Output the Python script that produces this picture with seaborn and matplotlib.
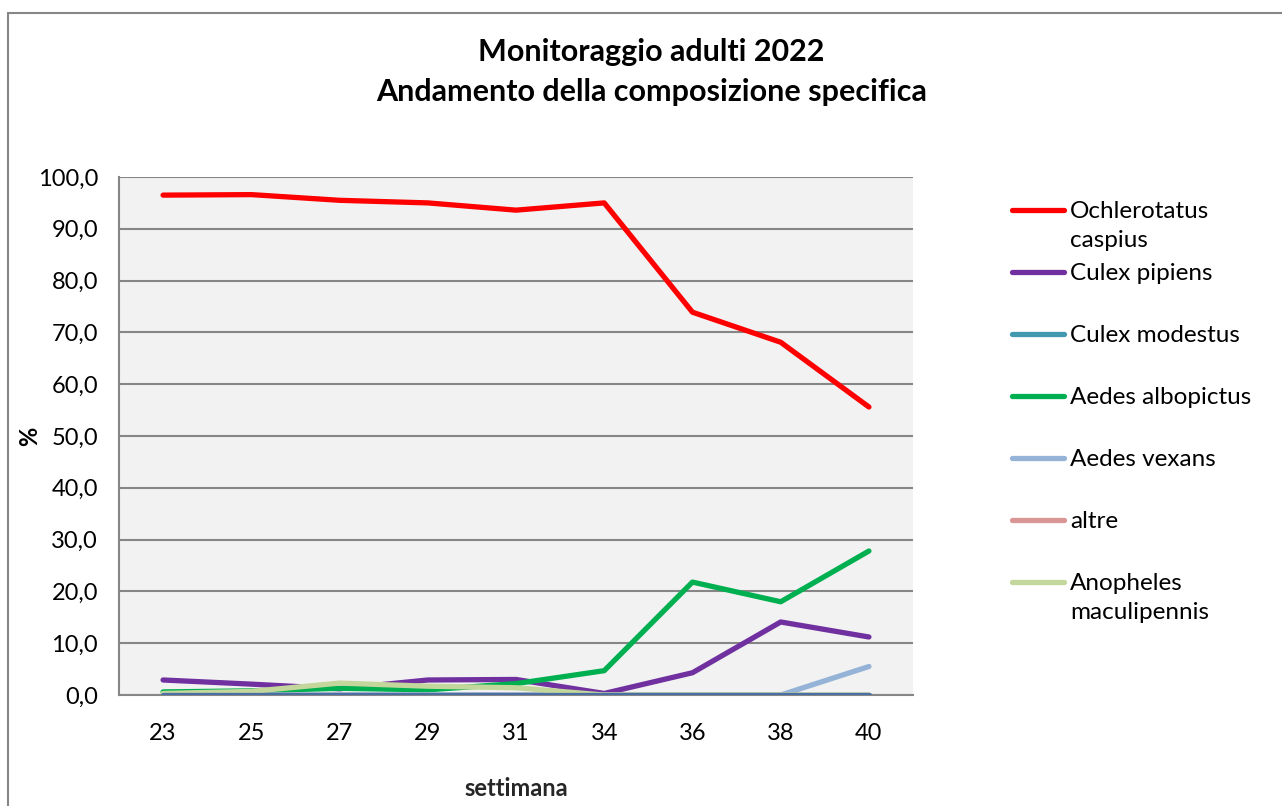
import pandas as pd
import seaborn as sns
import matplotlib.pyplot as plt
from matplotlib.lines import Line2D
from matplotlib.ticker import FuncFormatter, FixedLocator

# dati (percentuali)
settimane = ["23", "25", "27", "29", "31", "34", "36", "38", "40"]
specie = ["Ochlerotatus\ncaspius", "Culex pipiens", "Culex modestus", "Aedes albopictus",
          "Aedes vexans", "altre", "Anopheles\nmaculipennis"]
ochlerotatus = [96.5, 96.6, 95.5, 95.0, 93.6, 95.0, 73.9, 68.1, 55.6]
pipiens = [2.9, 2.1, 1.2, 2.9, 3.0, 0.3, 4.3, 14.1, 11.2]
modestus = [0.0, 0.0, 0.0, 0.0, 0.0, 0.0, 0.0, 0.0, 0.0]
albopictus = [0.6, 0.8, 1.3, 1.0, 2.2, 4.7, 21.8, 18.0, 27.8]
vexans = [0.0, 0.0, 0.0, 0.0, 0.0, 0.0, 0.0, 0.0, 5.5]
altre = [0.0, 0.0, 0.0, 0.0, 0.0, 0.0, 0.0, 0.0, 0.0]
anopheles = [0.3, 0.7, 2.3, 1.7, 1.4, 0.0, 0.0, 0.0, 0.0]
colori = ["#FF0000", "#7030A0", "#4198AF", "#00B050", "#95B3D7", "#D99694", "#C3D69B"]

serie = [ochlerotatus, pipiens, modestus, albopictus, vexans, altre, anopheles]
righe = []
for nome, valori in zip(specie, serie):
    for i, v in enumerate(valori):
        righe.append({"pos": i, "settimana": settimane[i], "specie": nome, "valore": v})
df = pd.DataFrame(righe)

sns.set_style("white")
plt.rcParams["font.family"] = ["Lato", "DejaVu Sans"]
plt.rcParams["text.color"] = "black"
plt.rcParams["xtick.labelcolor"] = "black"
plt.rcParams["ytick.labelcolor"] = "black"

fig = plt.figure(figsize=(12.82, 8.06), dpi=100)
ax = fig.add_axes([0.0928, 0.1377, 0.6194, 0.6427])
ax.set_facecolor("#F2F2F2")

sns.lineplot(data=df, x="pos", y="valore", hue="specie", hue_order=specie,
             palette=colori, linewidth=3.8, legend=False, ax=ax, sort=False)
# linea a zero (blu) sopra le altre
ax.plot(range(len(settimane)), modestus, color="#4A6FA5", linewidth=3.8, zorder=3)

ax.set_xlim(-0.5, len(settimane) - 0.5)
ax.set_ylim(0, 100)
ax.set_yticks(range(0, 101, 10))
ax.yaxis.set_major_formatter(FuncFormatter(lambda v, p: f"{v:.1f}".replace(".", ",")))
ax.grid(axis="y", color="#868686", linewidth=1.5)
ax.set_axisbelow(True)

ax.xaxis.set_major_locator(FixedLocator([i - 0.5 for i in range(len(settimane) + 1)]))
ax.xaxis.set_major_formatter(FuncFormatter(lambda v, p: ""))
ax.xaxis.set_minor_locator(FixedLocator(range(len(settimane))))
ax.set_xticklabels(settimane, minor=True)
ax.tick_params(axis="x", which="major", direction="out", length=10, width=1.5, color="#868686")
ax.tick_params(axis="x", which="minor", length=0, pad=20, labelsize=17)
ax.tick_params(axis="y", direction="out", length=7, width=1.5, color="#868686", pad=8, labelsize=17)

for s in ["top", "right"]:
    ax.spines[s].set_visible(False)
for s in ["left", "bottom"]:
    ax.spines[s].set_color("#868686")
    ax.spines[s].set_linewidth(1.5)

ax.set_xlabel("settimana", fontsize=17, fontweight="bold", labelpad=24)
ax.set_ylabel("")
fig.text(30 / 1282, 1 - 436 / 806, "%", fontsize=17, fontweight="bold", rotation=90,
         ha="center", va="center")

fig.text(0.508, 1 - 72 / 806, "Monitoraggio adulti 2022\nAndamento della composizione specifica",
         fontsize=22, fontweight="bold", ha="center", va="center", linespacing=1.5)

# legenda
for k, (nome, c) in enumerate(zip(specie, colori)):
    y = 1 - (210 + 62 * k) / 806
    fig.add_artist(Line2D([1012 / 1282, 1064 / 1282], [y, y], color=c, linewidth=3.8,
                          solid_capstyle="round", transform=fig.transFigure))
    fig.text(1070 / 1282, y + 9 / 806, nome, fontsize=17.5, va="top", ha="left",
             linespacing=1.48)

# cornice esterna
fig.add_artist(Line2D([8 / 1282, 8 / 1282], [0, 1 - 13 / 806], color="#868686",
                      linewidth=1.5, transform=fig.transFigure))
fig.add_artist(Line2D([8 / 1282, 1], [1 - 13 / 806, 1 - 13 / 806], color="#868686",
                      linewidth=1.5, transform=fig.transFigure))

plt.savefig("out.png", dpi=100)
